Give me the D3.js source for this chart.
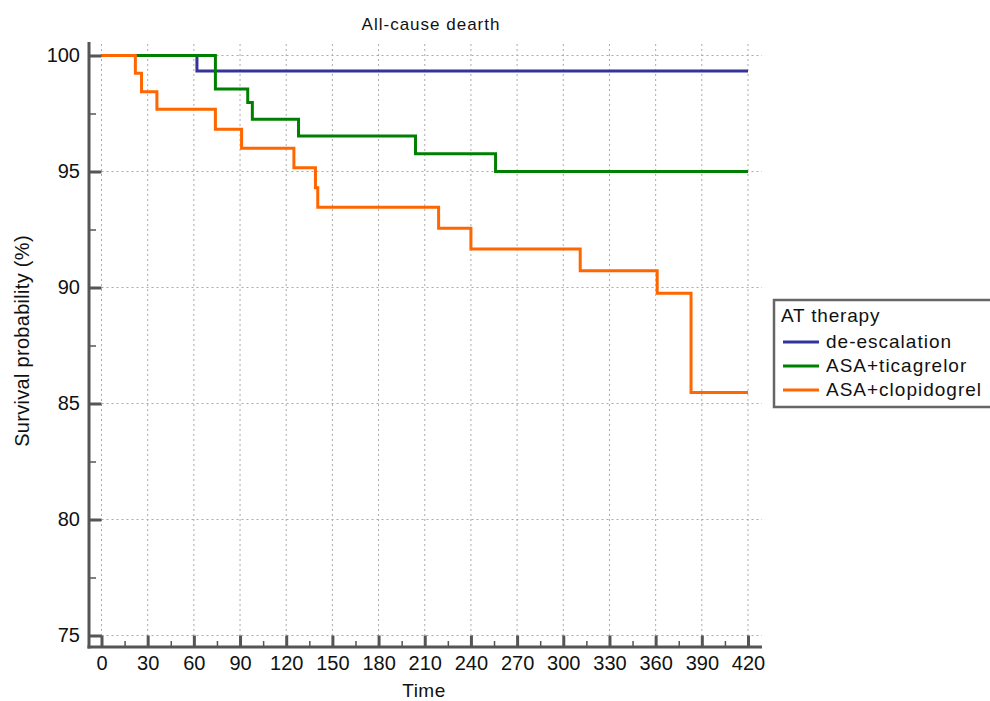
<!DOCTYPE html>
<html lang="en">
<head>
<meta charset="UTF-8">
<title>All-cause dearth</title>
<script src="https://d3js.org/d3.v7.min.js"></script>
<style>
  body { margin: 0; background: #fff; font-family: "Liberation Sans", Arial, sans-serif; }
  .grid line { stroke: #aaa; stroke-width: 1; stroke-dasharray: 2,3; }
</style>
</head>
<body>
<svg id="chart" width="990" height="701"></svg>
<script>
// Kaplan-Meier steps (time in days, survival in %)
const groups = ["de-escalation", "ASA+ticagrelor", "ASA+clopidogrel"];
const colors = ["#333399", "#008000", "#ff6600"];

const deescTime = [0, 62, 420];
const deescSurv = [100, 99.33, 99.33];

const ticaTime = [0, 74, 95, 98, 128, 204, 256, 420];
const ticaSurv = [100, 98.56, 97.97, 97.25, 96.53, 95.77, 95.0, 95.0];

const clopTime = [0, 22, 26, 36, 74, 91, 125, 139, 140.5, 219, 240, 311, 361, 383, 420];
const clopSurv = [100, 99.23, 98.44, 97.68, 96.82, 96.0, 95.16, 94.3, 93.46, 92.55, 91.66, 90.72, 89.75, 85.47, 85.47];

const xTicks = d3.range(0, 421, 30);
const xMinor = d3.range(15, 420, 30);
const yTicks = [75, 80, 85, 90, 95, 100];
const yMinor = [77.5, 82.5, 87.5, 92.5, 97.5];

const svg = d3.select("#chart");
const font = "Liberation Sans, Arial, sans-serif";

// scales
const x = d3.scaleLinear().domain([0, 420]).range([101.5, 748]);
const y = d3.scaleLinear().domain([75, 100]).range([635.5, 55.5]);

const axisX = 89, axisY = 647;
const plotRight = 762, plotTop = 44;

// grid
const grid = svg.append("g").attr("class", "grid");
grid.selectAll(".gx").data(xTicks).enter().append("line")
    .attr("x1", d => x(d)).attr("x2", d => x(d))
    .attr("y1", plotTop).attr("y2", y(75));
grid.selectAll(".gy").data(yTicks).enter().append("line")
    .attr("x1", x(0)).attr("x2", plotRight)
    .attr("y1", d => y(d)).attr("y2", d => y(d));

// y axis (ticks point into the plot)
const yAxis = svg.append("g").attr("transform", `translate(${axisX},0)`)
    .call(d3.axisLeft(y).tickValues(yTicks).tickSize(-(x(0) - axisX)).tickPadding(9));
yAxis.select(".domain").remove();
yAxis.selectAll(".tick line").attr("stroke", "#555").attr("stroke-width", 3);
yAxis.selectAll(".tick text").attr("font-size", 20).attr("fill", "#111").attr("font-family", font);

const yMin = svg.append("g").attr("transform", `translate(${axisX},0)`)
    .call(d3.axisLeft(y).tickValues(yMinor).tickSize(-7).tickFormat(""));
yMin.select(".domain").remove();
yMin.selectAll(".tick line").attr("stroke", "#555").attr("stroke-width", 1.5);

// x axis
const xAxis = svg.append("g").attr("transform", `translate(0,${axisY})`)
    .call(d3.axisBottom(x).tickValues(xTicks).tickSize(-(axisY - y(75))).tickPadding(9));
xAxis.select(".domain").remove();
xAxis.selectAll(".tick line").attr("stroke", "#555").attr("stroke-width", 3);
xAxis.selectAll(".tick text").attr("font-size", 20).attr("fill", "#111").attr("font-family", font);

const xMin = svg.append("g").attr("transform", `translate(0,${axisY})`)
    .call(d3.axisBottom(x).tickValues(xMinor).tickSize(-6).tickFormat(""));
xMin.select(".domain").remove();
xMin.selectAll(".tick line").attr("stroke", "#555").attr("stroke-width", 1.5);

// axis lines
svg.append("line").attr("x1", axisX).attr("x2", axisX).attr("y1", 42).attr("y2", axisY + 1.5)
    .attr("stroke", "#555").attr("stroke-width", 3);
svg.append("line").attr("x1", axisX - 1.5).attr("x2", plotRight).attr("y1", axisY).attr("y2", axisY)
    .attr("stroke", "#555").attr("stroke-width", 3);

// survival curves (clopidogrel drawn last, on top)
const series = [
  { name: groups[0], t: deescTime, s: deescSurv },
  { name: groups[1], t: ticaTime, s: ticaSurv },
  { name: groups[2], t: clopTime, s: clopSurv }
];
const line = d3.line().x(d => x(d[0])).y(d => y(d[1])).curve(d3.curveStepAfter);

series.forEach((sr, i) => {
  svg.append("path")
    .datum(sr.t.map((t, j) => [t, sr.s[j]]))
    .attr("d", line)
    .attr("fill", "none")
    .attr("stroke", colors[i])
    .attr("stroke-width", 3);
});

// titles
svg.append("text").attr("x", 431).attr("y", 30).attr("text-anchor", "middle")
    .attr("font-size", 17).attr("letter-spacing", 1).attr("fill", "#111").text("All-cause dearth");
svg.append("text").attr("x", 424).attr("y", 697).attr("text-anchor", "middle")
    .attr("font-size", 19).attr("letter-spacing", 0.5).attr("fill", "#111").text("Time");
svg.append("text").attr("transform", "translate(29,341) rotate(-90)").attr("text-anchor", "middle")
    .attr("font-size", 20).attr("letter-spacing", 0.3).attr("fill", "#111").text("Survival probability (%)");

// legend
const lg = svg.append("g");
lg.append("rect").attr("x", 774).attr("y", 300).attr("width", 230).attr("height", 107)
    .attr("fill", "#fff").attr("stroke", "#666").attr("stroke-width", 2.5);
lg.append("text").attr("x", 781).attr("y", 322).attr("font-size", 19).attr("letter-spacing", 0.8)
    .attr("fill", "#111").text("AT therapy");
groups.forEach((g, i) => {
  const ly = 342 + i * 24;
  lg.append("line").attr("x1", 783).attr("x2", 819).attr("y1", ly).attr("y2", ly)
    .attr("stroke", colors[i]).attr("stroke-width", 3);
  lg.append("text").attr("x", 826).attr("y", ly + 6).attr("font-size", 19).attr("letter-spacing", 1)
    .attr("fill", "#111").text(g);
});
</script>
</body>
</html>
